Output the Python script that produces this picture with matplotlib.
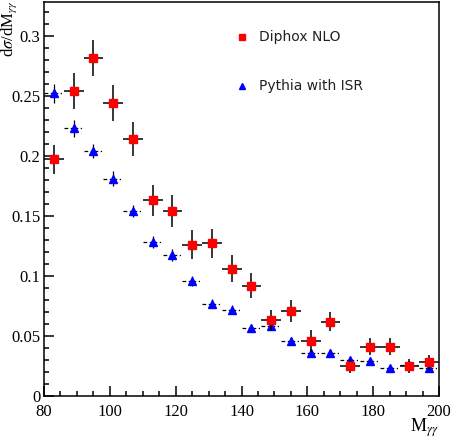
import matplotlib
matplotlib.use("Agg")
import matplotlib.pyplot as plt
from matplotlib.ticker import MultipleLocator

plt.rcParams['font.family'] = 'Liberation Serif'
plt.rcParams['mathtext.fontset'] = 'stix'

# bin centres (6 GeV bins from 80 to 200)
mass = [83, 89, 95, 101, 107, 113, 119, 125, 131, 137,
        143, 149, 155, 161, 167, 173, 179, 185, 191, 197]
half_bin = 3

diphox = [0.197, 0.254, 0.281, 0.244, 0.214, 0.163, 0.154, 0.126, 0.127, 0.106,
          0.092, 0.063, 0.071, 0.046, 0.062, 0.025, 0.041, 0.041, 0.025, 0.028]
diphox_err = [0.012, 0.015, 0.015, 0.015, 0.014, 0.013, 0.013, 0.012, 0.012, 0.011,
              0.010, 0.009, 0.009, 0.009, 0.008, 0.006, 0.007, 0.007, 0.006, 0.006]

pythia = [0.252, 0.223, 0.204, 0.181, 0.154, 0.128, 0.117, 0.096, 0.077, 0.072,
          0.057, 0.058, 0.046, 0.036, 0.036, 0.030, 0.029, 0.023, 0.026, 0.023]
pythia_err = [0.008, 0.007, 0.006, 0.006, 0.005, 0.005, 0.005, 0.004, 0.004, 0.004,
              0.003, 0.003, 0.003, 0.003, 0.003, 0.002, 0.002, 0.002, 0.002, 0.002]

fig = plt.figure(figsize=(4.51, 4.42), dpi=100)
ax = fig.add_axes([0.0976, 0.104, 0.8758, 0.8915])

# Pythia: dash-dot horizontal bars, small vertical errors
eb = ax.errorbar(mass, pythia, xerr=half_bin, yerr=pythia_err, fmt='^', color='blue',
                 markersize=5.5, ecolor='black', elinewidth=0.9, capsize=0, zorder=3)
eb[2][0].set_linestyle((0, (3, 2, 1, 2)))

ax.errorbar(mass, diphox, xerr=half_bin, yerr=diphox_err, fmt='s', color='red',
            markersize=6, ecolor='black', elinewidth=1.1, capsize=0, zorder=4)

ax.set_xlim(80, 200)
ax.set_ylim(0, 0.328)

ax.xaxis.set_major_locator(MultipleLocator(20))
ax.xaxis.set_minor_locator(MultipleLocator(5))
ax.yaxis.set_major_locator(MultipleLocator(0.05))
ax.yaxis.set_minor_locator(MultipleLocator(0.01))
ax.tick_params(which='both', direction='in', top=False, right=False, width=1.1)
ax.tick_params(which='major', length=7, labelsize=12)
ax.tick_params(axis='x', which='major', pad=5.5)
ax.tick_params(axis='y', which='major', pad=2.5)
ax.tick_params(which='minor', length=3.5)
ax.yaxis.set_major_formatter(plt.FuncFormatter(lambda v, p: '0' if v == 0 else ('%g' % v)))
for s in ax.spines.values():
    s.set_linewidth(1.1)

# axis titles ROOT-style: at the ends of the axes
fig.text(9 / 451, 1 - 1 / 442, r'd$\sigma$/dM$_{\gamma\gamma}$', rotation=90,
         ha='center', va='top', fontsize=12)
fig.text(439 / 451, 10 / 442, r'M$_{\gamma\gamma}$', ha='right', va='baseline', fontsize=13)

# legend drawn by hand, no frame
ax.plot([0.501], [0.911], 's', color='red', markersize=5, transform=ax.transAxes)
ax.text(0.544, 0.911, 'Diphox NLO', transform=ax.transAxes, fontsize=10, va='center',
        family='DejaVu Sans', color='#222222')
ax.plot([0.501], [0.787], '^', color='blue', markersize=5, transform=ax.transAxes)
ax.text(0.544, 0.787, 'Pythia with ISR', transform=ax.transAxes, fontsize=10, va='center',
        family='DejaVu Sans', color='#222222')

fig.savefig('out.png', dpi=100)
